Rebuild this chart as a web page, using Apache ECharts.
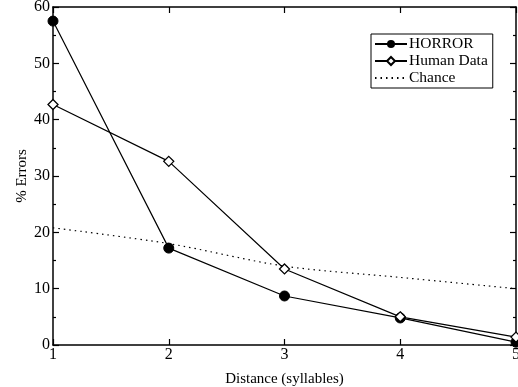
<!DOCTYPE html>
<html>
<head>
<meta charset="utf-8">
<script src="https://cdn.jsdelivr.net/npm/echarts@6/dist/echarts.min.js"></script>
<style>html,body{margin:0;padding:0;background:#fff}#c{width:518px;height:387px}</style>
</head>
<body>
<div id="c"></div>
<script>
const distances = [1, 2, 3, 4, 5];
const horror = [57.5, 17.2, 8.7, 4.8, 0.5];
const human = [42.7, 32.6, 13.5, 5.0, 1.4];
const chance = [20.8, 18, 14, 12, 10];

const font = 'Liberation Serif';
const pair = (ys) => distances.map((x, i) => [x, ys[i]]);
const chart = echarts.init(document.getElementById('c'));
const axisLine = { show: true, onZero: false, lineStyle: { color: '#000', width: 1.5 } };
const tick = { show: true, inside: true, length: 6, lineStyle: { color: '#000', width: 1.2 } };
const minor = { show: true, splitNumber: 2, length: 3, lineStyle: { color: '#000', width: 1.2 } };
chart.setOption({
  animation: false,
  backgroundColor: '#fff',
  textStyle: { fontFamily: font },
  grid: { left: 53, right: 2, top: 7, bottom: 42, containLabel: false, outerBoundsMode: 'none' },
  legend: {
    left: 371, top: 34,
    orient: 'vertical',
    itemWidth: 32, itemHeight: 10, itemGap: 1,
    padding: [2, 5, 2, 3],
    borderColor: '#000', borderWidth: 1,
    backgroundColor: '#fff',
    textStyle: { fontFamily: font, fontSize: 15.5, color: '#000', padding: [0, 0, 0, -3] },
    data: [
      'HORROR',
      'Human Data',
      { name: 'Chance', itemStyle: { color: 'rgba(0,0,0,0)', borderWidth: 0, opacity: 0 } }
    ]
  },
  xAxis: [{
    type: 'value', min: 1, max: 5, interval: 1,
    name: 'Distance (syllables)', nameLocation: 'middle', nameGap: 27, nameMoveOverlap: false,
    nameTextStyle: { fontFamily: font, fontSize: 15, color: '#000' },
    axisLine, axisTick: tick,
    axisLabel: { fontFamily: font, fontSize: 16, color: '#000', margin: 2 },
    splitLine: { show: false }
  }, {
    type: 'value', min: 1, max: 5, interval: 1, position: 'top',
    axisLine, axisTick: tick, axisLabel: { show: false }, splitLine: { show: false }
  }],
  yAxis: [{
    type: 'value', min: 0, max: 60, interval: 10,
    name: '% Errors', nameLocation: 'middle', nameGap: 23, nameRotate: 90, nameMoveOverlap: false,
    nameTextStyle: { fontFamily: font, fontSize: 15, color: '#000' },
    axisLine, axisTick: tick, minorTick: minor,
    axisLabel: { fontFamily: font, fontSize: 16, color: '#000', margin: 3 },
    splitLine: { show: false }, minorSplitLine: { show: false }
  }, {
    type: 'value', min: 0, max: 60, interval: 10, position: 'right',
    axisLine, axisTick: tick, minorTick: minor,
    axisLabel: { show: false }, splitLine: { show: false }, minorSplitLine: { show: false }
  }],
  series: [{
    name: 'HORROR', type: 'line', data: pair(horror),
    symbol: 'circle', symbolSize: 10,
    lineStyle: { color: '#000', width: 1.2 },
    itemStyle: { color: '#000', borderColor: '#000' }
  }, {
    name: 'Human Data', type: 'line', data: pair(human),
    symbol: 'diamond', symbolSize: 10,
    lineStyle: { color: '#000', width: 1.2 },
    itemStyle: { color: '#fff', borderColor: '#000', borderWidth: 1.3 }
  }, {
    name: 'Chance', type: 'line', data: pair(chance), smooth: 0.3,
    symbol: 'none',
    lineStyle: { color: '#000', width: 1.2, type: [1.5, 4] },
    itemStyle: { color: '#000' }
  }]
});
</script>
</body>
</html>
